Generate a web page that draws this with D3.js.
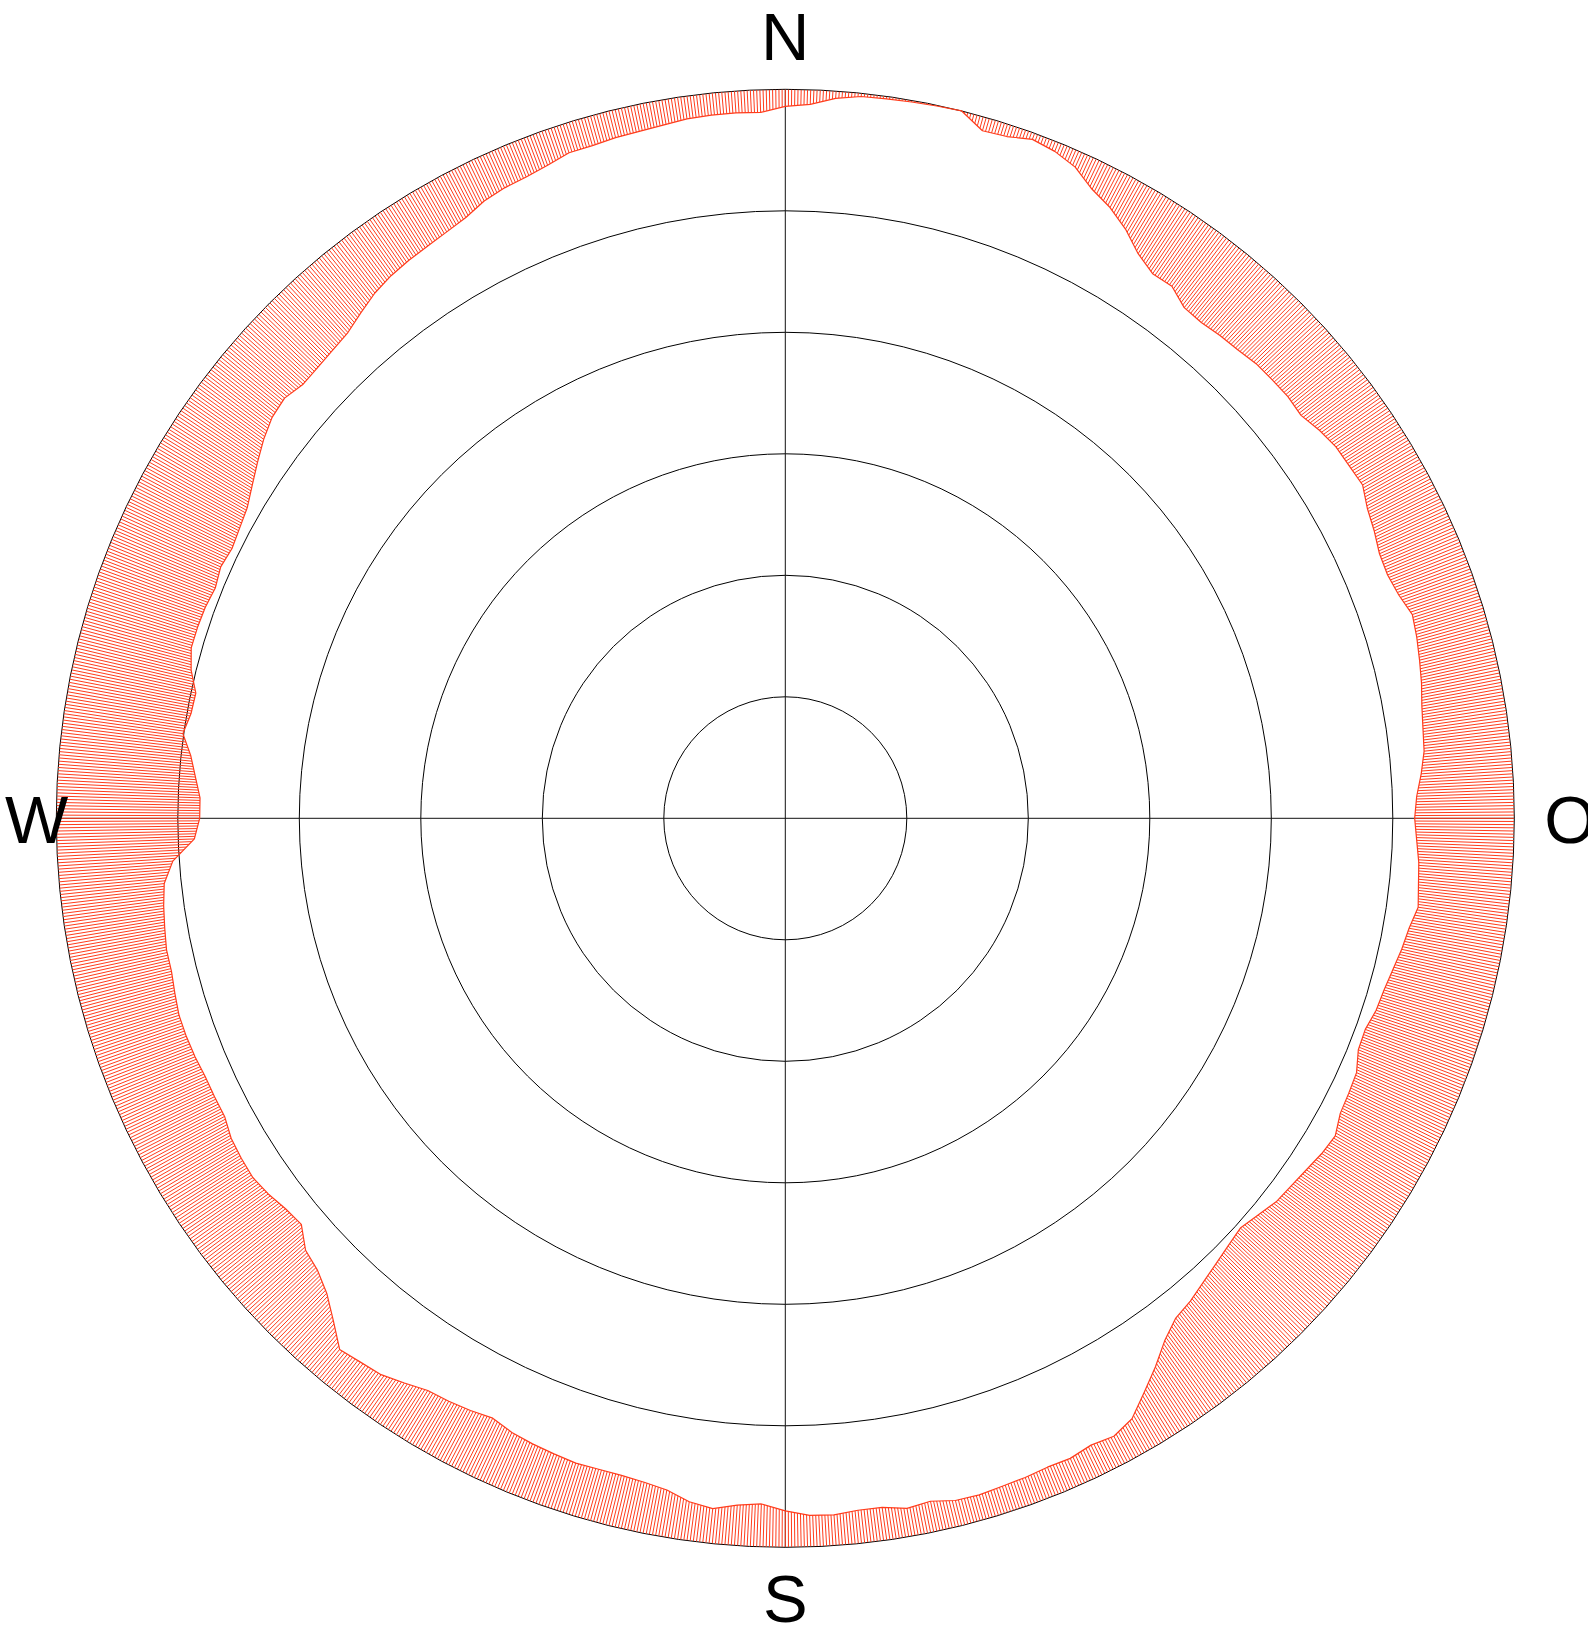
<!DOCTYPE html>
<html>
<head>
<meta charset="utf-8">
<script src="https://cdn.jsdelivr.net/npm/d3@7"></script>
<style>
  html, body { margin: 0; padding: 0; background: white; }
  svg { display: block; }
  .ring { fill: none; stroke: #000; stroke-width: 1; }
  .axis-line { stroke: #111; stroke-width: 1; }
  .hatch { stroke: #ff3c1c; stroke-width: 1; }
  .profile { fill: none; stroke: #ff3c1c; stroke-width: 1.2; stroke-linejoin: round; }
  .label { font-family: "Liberation Sans", Arial, sans-serif; font-size: 67px; fill: #000; }
</style>
</head>
<body>
<div id="chart"></div>
<script>
// Horizontprofil: Höhenwinkel (Grad) je Azimut, alle 2° ab Norden im Uhrzeigersinn
const azimuths = d3.range(0, 360, 2);
const horizonElevation = [
  2.1, 1.8, 0.9, 0.4, 0.3, 0.2, 0.1, 0.0, 1.7, 1.5,
  0.8, 1.2, 2.0, 3.6, 4.6, 6.0, 7.8, 8.9, 8.8, 10.0,
  10.1, 9.8, 9.6, 9.2, 9.1, 9.0, 9.2, 8.5, 8.0, 7.9,
  7.7, 8.6, 9.1, 9.7, 9.8, 9.4, 8.6, 8.9, 9.3, 9.7,
  10.2, 10.5, 10.7, 11.3, 12.0, 12.3, 12.0, 11.6, 11.4, 11.1,
  11.8, 12.2, 12.7, 13.1, 13.3, 13.8, 13.7, 12.8, 12.6, 12.4,
  11.6, 11.9, 12.4, 12.8, 13.1, 13.8, 14.4, 14.0, 13.5, 12.9,
  12.2, 11.7, 10.3, 8.3, 6.4, 4.4, 3.6, 3.9, 3.5, 3.6,
  3.4, 3.3, 3.1, 3.2, 3.8, 3.5, 4.1, 4.1, 3.8, 3.9,
  4.5, 5.3, 5.0, 4.3, 4.8, 5.8, 6.2, 6.4, 6.4, 6.3,
  6.5, 6.7, 7.0, 7.6, 7.2, 6.9, 6.7, 5.9, 5.1, 4.8,
  4.4, 6.6, 8.5, 9.7, 10.3, 12.0, 11.7, 11.1, 10.7, 10.8,
  11.0, 11.6, 11.6, 11.6, 11.4, 11.3, 11.3, 11.6, 11.9, 11.9,
  12.2, 12.5, 12.9, 14.2, 17.0, 17.7, 17.7, 17.0, 16.2, 14.9,
  15.5, 15.6, 14.4, 13.7, 13.7, 13.8, 14.1, 13.7, 14.0, 13.7,
  13.3, 12.4, 11.4, 10.4, 9.6, 9.3, 9.9, 9.8, 9.6, 9.3,
  8.5, 7.7, 7.2, 6.9, 6.7, 6.4, 6.0, 5.2, 4.8, 4.6,
  4.2, 3.6, 3.6, 3.4, 3.3, 3.1, 2.8, 2.7, 2.7, 2.8
];

// Ringe alle 15° Höhe, Horizont (0°) ist der äußere Kreis
const ringElevations = [0, 15, 30, 45, 60, 75];
const compassLabels = ['N', 'O', 'S', 'W'];

const width = 1588, height = 1628;
const cx = 785.3, cy = 818.3;
const outerRadius = 729;
const hatchStep = 0.25; // Schraffur-Abstand in Grad

const data = azimuths.map((az, i) => ({ az, elev: horizonElevation[i] }));

const svg = d3.select('#chart').append('svg')
  .attr('width', width)
  .attr('height', height);

const g = svg.append('g').attr('transform', `translate(${cx},${cy})`);

// Skalen: Azimut -> Winkel, Höhe -> Radius (Zenit in der Mitte)
const angle = d3.scaleLinear().domain([0, 360]).range([0, 2 * Math.PI]);
const radius = d3.scaleLinear().domain([0, 90]).range([outerRadius, 0]);

// Gitter: Ringe
g.selectAll('.ring')
  .data(ringElevations)
  .enter()
  .append('circle')
  .attr('class', 'ring')
  .attr('r', d => radius(d));

// Achsenkreuz N-S / W-O
g.selectAll('.axis-line')
  .data([0, 90])
  .enter()
  .append('line')
  .attr('class', 'axis-line')
  .attr('x1', d => -radius(0) * Math.sin(angle(d)))
  .attr('y1', d => radius(0) * Math.cos(angle(d)))
  .attr('x2', d => radius(0) * Math.sin(angle(d)))
  .attr('y2', d => -radius(0) * Math.cos(angle(d)));

// Horizontlinie
const profileLine = d3.lineRadial()
  .angle(d => angle(d.az))
  .radius(d => radius(d.elev))
  .curve(d3.curveLinearClosed);

// Clip: Fläche zwischen Horizontkreis und Profil
const circlePath = d3.arc()({ innerRadius: 0, outerRadius: radius(0), startAngle: 0, endAngle: 2 * Math.PI });
svg.append('defs').append('clipPath')
  .attr('id', 'horizon-clip')
  .append('path')
  .attr('clip-rule', 'evenodd')
  .attr('d', circlePath + profileLine(data));

// Radiale Schraffur, auf die Fläche beschnitten
const maxElev = d3.max(horizonElevation) + 2;
g.append('g')
  .attr('clip-path', 'url(#horizon-clip)')
  .selectAll('.hatch')
  .data(d3.range(0, 360, hatchStep))
  .enter()
  .append('line')
  .attr('class', 'hatch')
  .attr('x1', d => radius(0) * Math.sin(angle(d)))
  .attr('y1', d => -radius(0) * Math.cos(angle(d)))
  .attr('x2', d => radius(maxElev) * Math.sin(angle(d)))
  .attr('y2', d => -radius(maxElev) * Math.cos(angle(d)));

g.append('path')
  .datum(data)
  .attr('class', 'profile')
  .attr('d', profileLine);

// Himmelsrichtungen
const labelPos = {
  N: { x: 0, y: -758, anchor: 'middle' },
  O: { x: 759, y: 25, anchor: 'start' },
  S: { x: 0, y: 804, anchor: 'middle' },
  W: { x: -717, y: 25, anchor: 'end' }
};
g.selectAll('.label')
  .data(compassLabels)
  .enter()
  .append('text')
  .attr('class', 'label')
  .attr('x', d => labelPos[d].x)
  .attr('y', d => labelPos[d].y)
  .attr('text-anchor', d => labelPos[d].anchor)
  .text(d => d);
</script>
</body>
</html>
